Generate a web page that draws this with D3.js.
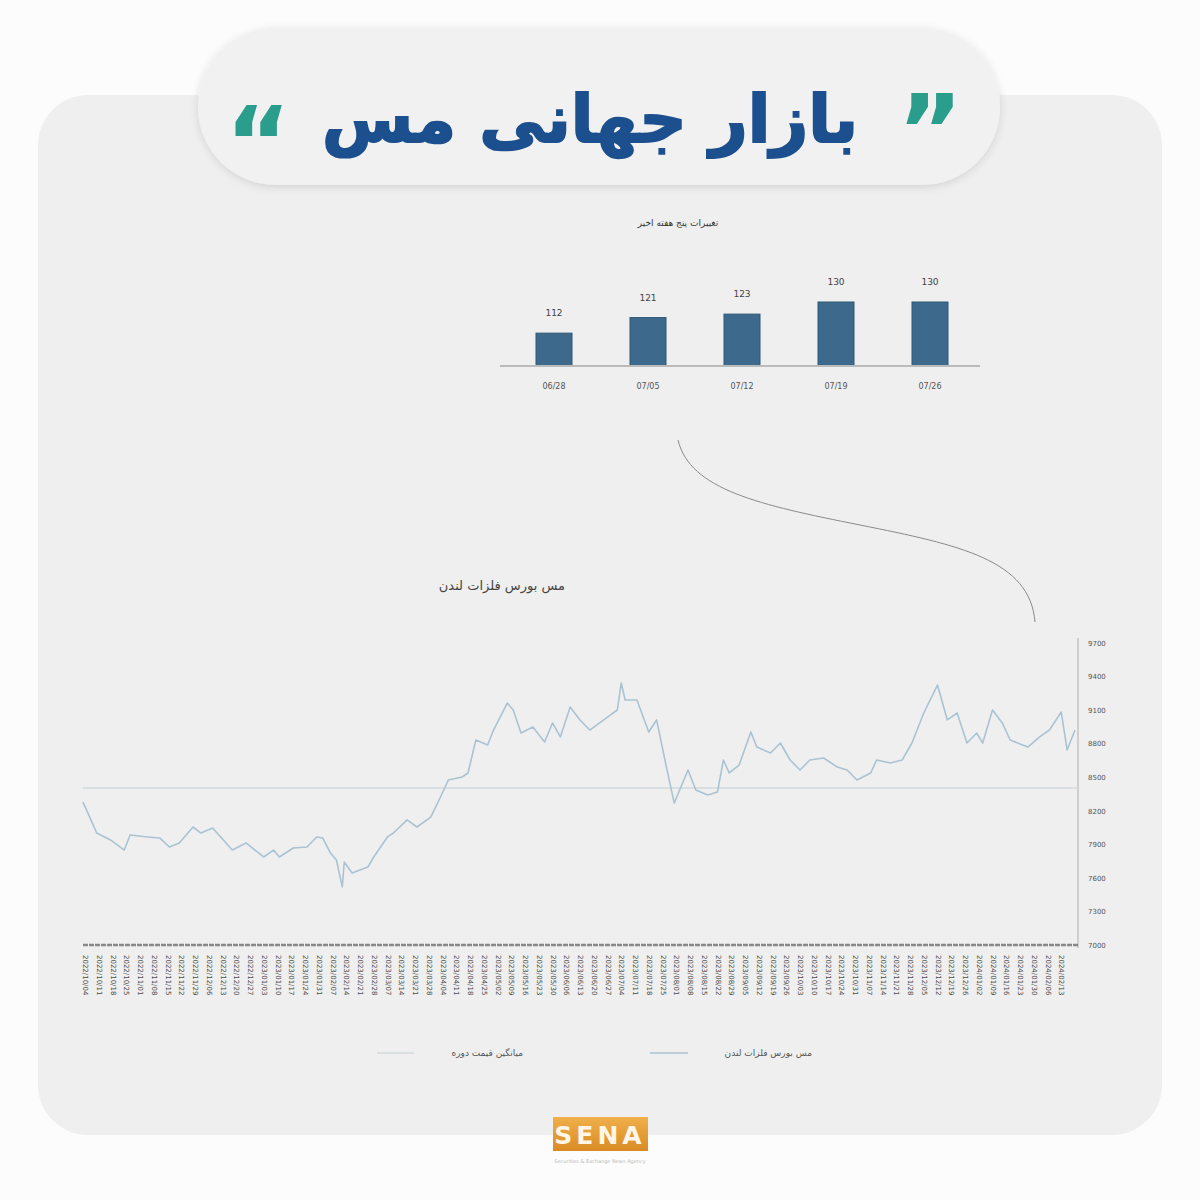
<!DOCTYPE html>
<html><head><meta charset="utf-8">
<script src="https://cdn.jsdelivr.net/npm/d3@7"></script>
<style>body{margin:0;background:#fcfcfc}svg{display:block}</style>
</head><body><svg id="c" width="1200" height="1200"></svg>
<script>
// ---------- data ----------
const titleText = "بازار جهانی مس";
const barTitle = "تغییرات پنج هفته اخیر";
const barCategories = ["06/28", "07/05", "07/12", "07/19", "07/26"];
const barValues = [112, 121, 123, 130, 130];
const lineTitle = "مس بورس فلزات لندن";
const legendLabels = ["مس بورس فلزات لندن", "میانگین قیمت دوره"];
const startDate = "2022-10-03";
const priceDays = [0,7,14,21,24,33,39,44,49,56,60,66,76,83,92,97,100,107,114,119,122,126,129,132,133,137,145,148,155,158,165,170,177,182,186,193,196,200,206,209,216,219,223,229,235,239,243,248,253,258,267,272,274,276,282,288,292,297,301,308,312,318,323,326,329,334,340,343,350,355,360,365,370,377,384,389,394,401,404,411,417,422,428,435,440,445,450,455,458,463,468,472,481,487,492,498,501,505];
const priceValues = [8278,8001,7939,7849,7983,7966,7957,7876,7912,8055,8001,8046,7849,7912,7787,7849,7787,7867,7876,7966,7957,7822,7760,7519,7742,7644,7697,7787,7966,8001,8118,8055,8144,8323,8475,8502,8538,8833,8788,8922,9163,9101,8895,8949,8815,8985,8860,9128,9012,8922,9038,9101,9342,9190,9190,8904,9012,8591,8269,8565,8386,8341,8368,8654,8538,8609,8904,8770,8716,8806,8654,8565,8654,8672,8591,8565,8475,8538,8654,8627,8654,8806,9074,9324,9012,9074,8806,8895,8806,9101,8985,8833,8770,8860,8922,9083,8743,8922];
const averagePrice = 8404;
const yTicks = [7000, 7300, 7600, 7900, 8200, 8500, 8800, 9100, 9400, 9700];
const xTickCount = 72;
const xTickStepDays = 7;

// ---------- drawing ----------
const svg = d3.select("#c");
const FA = "'DejaVu Sans', sans-serif";
const defs = svg.append("defs");
const sh = defs.append("filter").attr("id", "sh").attr("x", "-10%").attr("y", "-30%").attr("width", "120%").attr("height", "160%");
sh.append("feDropShadow").attr("dx", 0).attr("dy", 2).attr("stdDeviation", 4).attr("flood-color", "#000").attr("flood-opacity", 0.12);
const lg = defs.append("linearGradient").attr("id", "sena").attr("x1", 0).attr("x2", 0).attr("y1", 0).attr("y2", 1);
lg.append("stop").attr("offset", "0%").attr("stop-color", "#f0b04a");
lg.append("stop").attr("offset", "100%").attr("stop-color", "#d98a25");

// background panel
svg.append("rect").attr("x", 38).attr("y", 95).attr("width", 1124).attr("height", 1040).attr("rx", 50).attr("fill", "#efefef");

// title pill
svg.append("rect").attr("x", 198).attr("y", 28).attr("width", 802).attr("height", 157).attr("rx", 78)
  .attr("fill", "#f1f1f1").attr("filter", "url(#sh)");
const tt = svg.append("text").attr("x", 590).attr("y", 142).attr("text-anchor", "middle")
  .attr("font-family", FA).attr("font-weight", "bold").attr("font-size", 80).attr("fill", "#1c4f8e")
  .attr("stroke", "#1c4f8e").attr("stroke-width", 2).text(titleText);
// fit the title to the reference width
const tw = tt.node().getComputedTextLength();
tt.attr("font-size", 80 * 536 / tw);
svg.append("text").attr("x", 258).attr("y", 178).attr("text-anchor", "middle")
  .attr("font-family", FA).attr("font-weight", "bold").attr("font-size", 100).attr("fill", "#2a9d8c").text("\u201C");
svg.append("text").attr("x", 930).attr("y", 166).attr("text-anchor", "middle")
  .attr("font-family", FA).attr("font-weight", "bold").attr("font-size", 100).attr("fill", "#2a9d8c").text("\u201D");

// ---------- bar chart ----------
const xb = d3.scaleBand().domain(barCategories).range([507, 977]).paddingInner(0.617).paddingOuter(0.3085);
const yb = d3.scaleLinear().domain([93, 130]).range([366, 302]);
svg.append("text").attr("x", 678).attr("y", 226).attr("text-anchor", "middle")
  .attr("font-family", FA).attr("font-size", 9).attr("fill", "#333").text(barTitle);
svg.append("g").selectAll("rect").data(barValues).join("rect")
  .attr("x", (d, i) => xb(barCategories[i])).attr("width", xb.bandwidth())
  .attr("y", d => yb(d)).attr("height", d => yb.range()[0] - yb(d))
  .attr("fill", "#3d6a8c").attr("stroke", "#2f5877").attr("stroke-width", 1);
svg.append("g").selectAll("text").data(barValues).join("text")
  .attr("x", (d, i) => xb(barCategories[i]) + xb.bandwidth() / 2).attr("y", d => yb(d) - 17)
  .attr("text-anchor", "middle").attr("font-family", FA).attr("font-size", 9).attr("fill", "#444").text(d => d);
const xbAxis = svg.append("g").attr("transform", "translate(0,366)")
  .call(d3.axisBottom(xb).tickSize(0).tickPadding(17));
xbAxis.select(".domain").attr("d", "M500,0H980").attr("stroke", "#bbb").attr("stroke-width", 2);
xbAxis.selectAll("text").attr("font-family", FA).attr("font-size", 8).attr("fill", "#555");

// connector curve
svg.append("path").attr("d", "M678,440 C690,490 760,505 860,525 C960,545 1030,560 1035,622")
  .attr("fill", "none").attr("stroke", "#8a8a8a").attr("stroke-width", 1);

// ---------- line chart ----------
const parse = d3.timeParse("%Y-%m-%d");
const d0 = parse(startDate);
const lineData = priceDays.map((d, i) => ({ date: d3.timeDay.offset(d0, d), v: priceValues[i] }));
const x = d3.scaleTime().domain([d0, d3.timeDay.offset(d0, 505)]).range([83, 1075]);
const y = d3.scaleLinear().domain([7000, 9700]).range([945, 643]);

svg.append("text").attr("x", 565).attr("y", 590).attr("text-anchor", "end")
  .attr("font-family", FA).attr("font-size", 13).attr("fill", "#444").text(lineTitle);

// y axis on right
const ya = svg.append("g").attr("transform", "translate(1078,0)")
  .call(d3.axisRight(y).tickValues(yTicks).tickSize(0).tickPadding(10).tickFormat(d3.format("d")));
ya.select(".domain").attr("d", "M0,638V948").attr("stroke", "#cfcfcf").attr("stroke-width", 2);
ya.selectAll("text").attr("font-family", FA).attr("font-size", 7).attr("fill", "#555");

// x axis
const xTicks = d3.range(xTickCount).map(i => d3.timeDay.offset(d0, 1 + i * xTickStepDays));
const xa = svg.append("g").attr("transform", "translate(0,945)")
  .call(d3.axisBottom(x).tickValues(xTicks).tickSize(0).tickFormat(d3.timeFormat("%Y/%m/%d")));
xa.select(".domain").attr("d", "M83,0H1078").attr("stroke", "#888").attr("stroke-width", 2.5).attr("stroke-dasharray", "5,1");
xa.selectAll(".tick text").attr("font-family", FA).attr("font-size", 7).attr("fill", "#4a4a4a")
  .attr("transform", "rotate(90)").attr("text-anchor", "start").attr("x", 10).attr("y", 0).attr("dy", "0.32em").attr("dx", 0);

// average line
svg.append("line").attr("x1", 83).attr("x2", 1078).attr("y1", y(averagePrice)).attr("y2", y(averagePrice))
  .attr("stroke", "#d3dadd").attr("stroke-width", 1.5);

// price line
svg.append("path").datum(lineData)
  .attr("d", d3.line().x(d => x(d.date)).y(d => y(d.v)))
  .attr("fill", "none").attr("stroke", "#aac3d2").attr("stroke-width", 1.6).attr("stroke-linejoin", "round");

// legend
const leg = [
  { label: legendLabels[0], tx: 812, lx1: 650, lx2: 688, color: "#aac3d2" },
  { label: legendLabels[1], tx: 523, lx1: 377, lx2: 414, color: "#d3dadd" }
];
leg.forEach(l => {
  svg.append("line").attr("x1", l.lx1).attr("x2", l.lx2).attr("y1", 1053).attr("y2", 1053)
    .attr("stroke", l.color).attr("stroke-width", 1.5);
  svg.append("text").attr("x", l.tx).attr("y", 1056).attr("text-anchor", "end")
    .attr("font-family", FA).attr("font-size", 9).attr("fill", "#555").text(l.label);
});

// SENA logo
svg.append("rect").attr("x", 553).attr("y", 1117).attr("width", 95).attr("height", 34).attr("fill", "url(#sena)");
svg.append("text").attr("x", 600).attr("y", 1144).attr("text-anchor", "middle")
  .attr("font-family", "'DejaVu Sans', sans-serif").attr("font-weight", "bold").attr("font-size", 25)
  .attr("letter-spacing", 4).attr("fill", "#fff6e8").text("SENA");
svg.append("text").attr("x", 600).attr("y", 1163).attr("text-anchor", "middle")
  .attr("font-family", FA).attr("font-size", 5).attr("fill", "#bbb").text("Securities & Exchange News Agency");
</script></body></html>
